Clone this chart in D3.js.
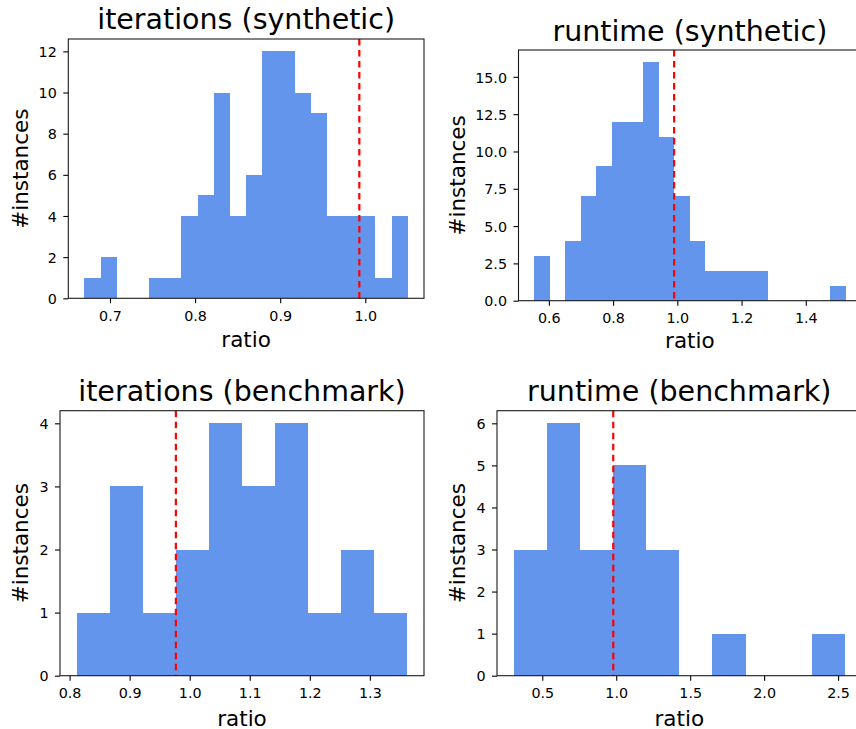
<!DOCTYPE html>
<html>
<head>
<meta charset="utf-8">
<script src="https://cdn.jsdelivr.net/npm/d3@7/dist/d3.min.js"></script>
<style>
  html, body { margin: 0; padding: 0; background: #fff; }
  svg { display: block; }
  text { font-family: "DejaVu Sans", sans-serif; fill: #000; }
</style>
</head>
<body>
<svg id="chart" width="856" height="729"></svg>
<script>
// ---------------- data ----------------
const titles = ["iterations (synthetic)", "runtime (synthetic)", "iterations (benchmark)", "runtime (benchmark)"];
const xLabel = "ratio";
const yLabel = "#instances";

// histogram counts (equal-width bins between the given range)
const iterSynCounts = [1, 2, 0, 0, 1, 1, 4, 5, 10, 4, 6, 12, 12, 10, 9, 4, 4, 4, 1, 4];
const iterSynRange = [0.670, 1.050];
const iterSynMark = 0.993;

const runSynCounts = [3, 0, 4, 7, 9, 12, 12, 16, 11, 7, 4, 2, 2, 2, 2, 0, 0, 0, 0, 1];
const runSynRange = [0.554, 1.524];
const runSynMark = 0.990;

const iterBenCounts = [1, 3, 1, 2, 4, 3, 4, 1, 2, 1];
const iterBenRange = [0.8116, 1.3626];
const iterBenMark = 0.977;

const runBenCounts = [3, 6, 3, 5, 3, 0, 1, 0, 0, 1];
const runBenRange = [0.306, 2.547];
const runBenMark = 0.980;

// tick labels
const iterSynXTicks = [0.7, 0.8, 0.9, 1.0];
const iterSynYTicks = [0, 2, 4, 6, 8, 10, 12];
const runSynXTicks = [0.6, 0.8, 1.0, 1.2, 1.4];
const runSynYTicks = [0, 2.5, 5, 7.5, 10, 12.5, 15];
const iterBenXTicks = [0.8, 0.9, 1.0, 1.1, 1.2, 1.3];
const iterBenYTicks = [0, 1, 2, 3, 4];
const runBenXTicks = [0.5, 1.0, 1.5, 2.0, 2.5];
const runBenYTicks = [0, 1, 2, 3, 4, 5, 6];

// ---------------- layout ----------------
const layout = [
  { left: 68.3, right: 424, top: 39, bottom: 298.3, titleY: 29.3, xLabY: 346.7, yLabX: 28.3, yFmt: d3.format("d") },
  { left: 518.5, right: 861.2, top: 50, bottom: 300.7, titleY: 40.7, xLabY: 347.7, yLabX: 464.5, yFmt: d3.format(".1f") },
  { left: 60, right: 424, top: 410.7, bottom: 675.7, titleY: 400.7, xLabY: 725.7, yLabX: 28.3, yFmt: d3.format("d") },
  { left: 497, right: 861.6, top: 410.7, bottom: 675.7, titleY: 400.7, xLabY: 725.7, yLabX: 465, yFmt: d3.format("d") }
];

const panelsData = [
  { counts: iterSynCounts, range: iterSynRange, mark: iterSynMark, xt: iterSynXTicks, yt: iterSynYTicks },
  { counts: runSynCounts, range: runSynRange, mark: runSynMark, xt: runSynXTicks, yt: runSynYTicks },
  { counts: iterBenCounts, range: iterBenRange, mark: iterBenMark, xt: iterBenXTicks, yt: iterBenYTicks },
  { counts: runBenCounts, range: runBenRange, mark: runBenMark, xt: runBenXTicks, yt: runBenYTicks }
];

const svg = d3.select("#chart");
const barColor = "#6495ED";
const tickFont = 14.3, labelFont = 21.5, titleFont = 28.5;

panelsData.forEach((p, i) => {
  const L = layout[i];
  const n = p.counts.length;
  const [lo, hi] = p.range;
  const span = hi - lo;
  const edges = d3.range(n + 1).map(k => lo + span * k / n);
  const bins = p.counts.map((c, k) => ({ x0: edges[k], x1: edges[k + 1], c }));

  const x = d3.scaleLinear().domain([lo - 0.05 * span, hi + 0.05 * span]).range([L.left, L.right]);
  const yMax = d3.max(p.counts) * 1.05;
  const y = d3.scaleLinear().domain([0, yMax]).range([L.bottom, L.top]);

  const g = svg.append("g");

  // bars
  g.append("g").selectAll("rect")
    .data(bins.filter(b => b.c > 0))
    .join("rect")
    .attr("x", b => x(b.x0))
    .attr("width", b => x(b.x1) - x(b.x0))
    .attr("y", b => y(b.c))
    .attr("height", b => y(0) - y(b.c))
    .attr("fill", barColor)
    .attr("shape-rendering", "crispEdges");

  // mean/reference line
  g.append("line")
    .attr("x1", x(p.mark)).attr("x2", x(p.mark))
    .attr("y1", L.top).attr("y2", L.bottom)
    .attr("stroke", "#ff0000")
    .attr("stroke-width", 2.2)
    .attr("stroke-dasharray", "6.5,4.5");

  // axes
  const xAxis = d3.axisBottom(x).tickValues(p.xt).tickSize(5).tickFormat(d3.format(".1f"));
  const gx = g.append("g").attr("transform", `translate(0,${L.bottom})`).call(xAxis);
  gx.select(".domain").remove();
  gx.selectAll(".tick line").attr("stroke", "#000").attr("stroke-width", 1.1);
  gx.selectAll(".tick text").attr("y", 22.5).attr("dy", 0)
    .style("font-size", tickFont + "px").style("font-family", "DejaVu Sans, sans-serif").attr("fill", "#000");

  const yAxis = d3.axisLeft(y).tickValues(p.yt).tickSize(5).tickPadding(6.5).tickFormat(L.yFmt);
  const gy = g.append("g").attr("transform", `translate(${L.left},0)`).call(yAxis);
  gy.select(".domain").remove();
  gy.selectAll(".tick line").attr("stroke", "#000").attr("stroke-width", 1.1);
  gy.selectAll(".tick text").attr("dy", "0.36em")
    .style("font-size", tickFont + "px").style("font-family", "DejaVu Sans, sans-serif").attr("fill", "#000");

  // frame (spines)
  g.append("rect")
    .attr("x", L.left).attr("y", L.top)
    .attr("width", L.right - L.left).attr("height", L.bottom - L.top)
    .attr("fill", "none").attr("stroke", "#1a1a1a").attr("stroke-width", 1.1);

  const cx = (L.left + L.right) / 2;
  const cy = (L.top + L.bottom) / 2;

  // title
  g.append("text").attr("x", cx).attr("y", L.titleY)
    .attr("text-anchor", "middle").style("font-size", titleFont + "px")
    .text(titles[i]);

  // x label
  g.append("text").attr("x", cx).attr("y", L.xLabY)
    .attr("text-anchor", "middle").style("font-size", labelFont + "px")
    .text(xLabel);

  // y label
  g.append("text")
    .attr("transform", `translate(${L.yLabX},${cy}) rotate(-90)`)
    .attr("text-anchor", "middle").style("font-size", labelFont + "px")
    .text(yLabel);
});
</script>
</body>
</html>
